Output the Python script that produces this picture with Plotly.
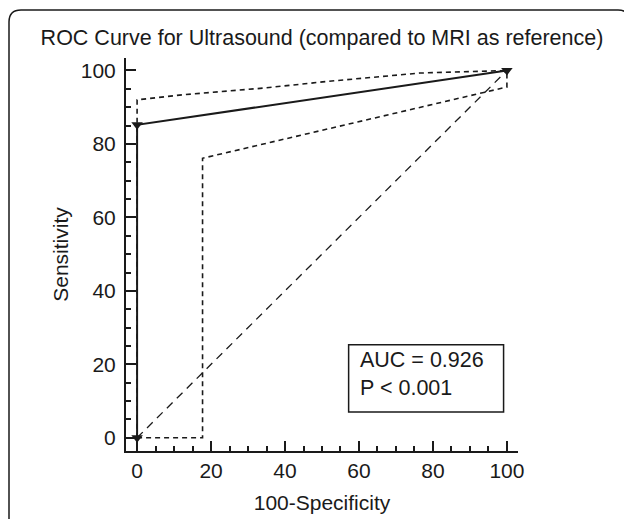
import plotly.graph_objects as go

# ---- data ----
roc_x = [0, 0, 100]
roc_y = [0, 85.2, 100]
upper_x = [0, 0, 12.4, 34.1, 51.2, 76.4, 100]
upper_y = [0, 92.0, 93.4, 95.2, 97.0, 99.3, 100]
lower_x = [0, 17.7, 17.7, 100, 100]
lower_y = [0, 0, 76.1, 95.5, 100]
diag_x = [0, 100]
diag_y = [0, 100]
auc_text = ["AUC = 0.926", "P < 0.001"]
ticks = [0, 20, 40, 60, 80, 100]

OFF = 8  # page body margin
W, H = 632 - OFF, 519 - OFF
L, T = 126 - OFF, 58 - OFF
pw, ph = 392, 393
R, B = W - L - pw, H - T - ph

def px(xp):
    return (xp - OFF - L) / pw

def py(yp):
    return (T + ph - (yp - OFF)) / ph

FONT = "Liberation Sans, Arial, sans-serif"
INK = "#1a1a1a"

fig = go.Figure()
fig.add_trace(go.Scatter(x=diag_x, y=diag_y, mode="lines",
                         line=dict(color=INK, width=1.3, dash="8px,6px"),
                         hoverinfo="skip", showlegend=False))
fig.add_trace(go.Scatter(x=upper_x, y=upper_y, mode="lines",
                         line=dict(color=INK, width=1.6, dash="5px,4px"),
                         showlegend=False))
fig.add_trace(go.Scatter(x=lower_x, y=lower_y, mode="lines",
                         line=dict(color=INK, width=1.6, dash="5px,4px"),
                         showlegend=False))
fig.add_trace(go.Scatter(x=roc_x, y=roc_y, mode="lines+markers",
                         line=dict(color=INK, width=2),
                         marker=dict(symbol="triangle-down", size=10, color=INK),
                         showlegend=False))

# AUC box
fig.add_shape(type="rect", xref="x", yref="y", x0=57.2, x1=99.1, y0=7.0, y1=25.3,
              line=dict(color=INK, width=1.5), fillcolor="white", layer="above")
fig.add_annotation(x=59.6, y=21.2, xref="x", yref="y", text=auc_text[0],
                   showarrow=False, xanchor="left", yanchor="middle",
                   font=dict(family=FONT, size=21.5, color=INK))
fig.add_annotation(x=59.6, y=13.5, xref="x", yref="y", text=auc_text[1],
                   showarrow=False, xanchor="left", yanchor="middle",
                   font=dict(family=FONT, size=21.5, color=INK))

# outer rounded border (open at bottom)
x0, x1, y0, y1, r = 9, 630, 10, 540, 12
path = (f"M {px(x0)},{py(y1)} L {px(x0)},{py(y0 + r)} "
        f"Q {px(x0)},{py(y0)} {px(x0 + r)},{py(y0)} "
        f"L {px(x1 - r)},{py(y0)} "
        f"Q {px(x1)},{py(y0)} {px(x1)},{py(y0 + r)} "
        f"L {px(x1)},{py(y1)}")
fig.add_shape(type="path", xref="paper", yref="paper", path=path,
              line=dict(color=INK, width=1.5))

axis_common = dict(
    showline=True, linecolor=INK, linewidth=2, mirror=False,
    showgrid=False, zeroline=False, automargin=False,
    ticks="inside", ticklen=10, tickwidth=2, tickcolor=INK,
    tickvals=ticks, ticktext=[str(t) for t in ticks],
    tickfont=dict(family=FONT, size=21, color=INK),
    minor=dict(ticks="inside", ticklen=5, tickwidth=1.5, tickcolor=INK, dtick=5, showgrid=False),
)

fig.update_layout(
    width=W, height=H,
    margin=dict(l=L, r=R, t=T, b=B, autoexpand=False),
    paper_bgcolor="white", plot_bgcolor="white",
    font=dict(family=FONT, color=INK),
    title=dict(text="ROC Curve for Ultrasound (compared to MRI as reference)",
               x=px(322), xref="paper", xanchor="center",
               y=1 - (37 - OFF) / H, yref="container", yanchor="middle",
               font=dict(family=FONT, size=21.5, color=INK)),
    xaxis=dict(range=[-3, 103], title=dict(text="100-Specificity", standoff=14,
               font=dict(family=FONT, size=21, color=INK)), **axis_common),
    yaxis=dict(range=[-3.6, 103.4], title=dict(text="Sensitivity", standoff=6,
               font=dict(family=FONT, size=21, color=INK)), ticklabelstandoff=4, **axis_common),
)

fig.write_html("out.html")
